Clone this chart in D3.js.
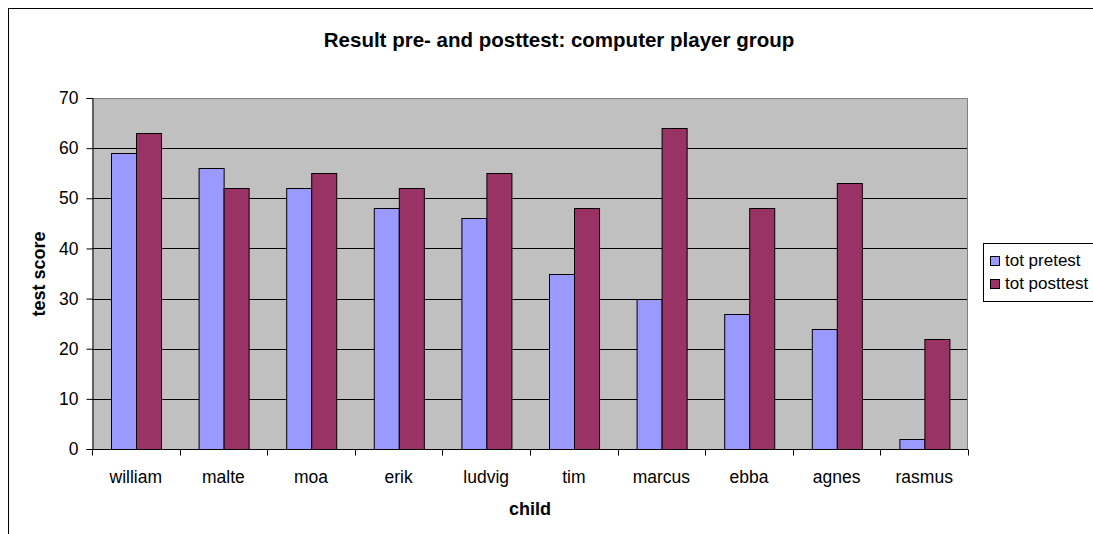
<!DOCTYPE html>
<html>
<head>
<meta charset="utf-8">
<script src="https://cdn.jsdelivr.net/npm/d3@7"></script>
<style>
  html, body { margin: 0; padding: 0; background: #fff; }
  svg { display: block; font-family: Arial, "Liberation Sans", sans-serif; }
</style>
</head>
<body>
<svg id="chart" width="1093" height="534"></svg>
<script>
// Test scores per child, before and after the computer-player sessions
const children = ["william", "malte", "moa", "erik", "ludvig", "tim", "marcus", "ebba", "agnes", "rasmus"];
const seriesNames = ["tot pretest", "tot posttest"];
const pretest = [59, 56, 52, 48, 46, 35, 30, 27, 24, 2];
const posttest = [63, 52, 55, 52, 55, 48, 64, 48, 53, 22];
const yTicks = [0, 10, 20, 30, 40, 50, 60, 70];
const seriesColors = ["#9999FF", "#993366"];

const svg = d3.select("#chart");

// outer chart frame (runs past the right and bottom edges)
svg.append("rect")
  .attr("x", 8.5).attr("y", 8.5)
  .attr("width", 1200).attr("height", 600)
  .attr("fill", "#fff").attr("stroke", "#000").attr("stroke-width", 1);

const plot = { left: 92, right: 968, top: 98, bottom: 449 };

const x0 = d3.scaleBand().domain(children).range([plot.left, plot.right]).padding(0);
const gap = x0.bandwidth() * 0.75 / 3.5;
const x1 = d3.scaleBand().domain(seriesNames).range([gap, x0.bandwidth() - gap]).padding(0);
const y = d3.scaleLinear().domain([0, 70]).range([plot.bottom, plot.top]);

// plot background
svg.append("rect")
  .attr("x", plot.left).attr("y", plot.top)
  .attr("width", plot.right - plot.left).attr("height", plot.bottom - plot.top)
  .attr("fill", "#C0C0C0");

// horizontal gridlines
svg.append("g")
  .selectAll("line")
  .data(yTicks.filter(t => t > 0 && t < 70))
  .join("line")
  .attr("x1", plot.left).attr("x2", plot.right)
  .attr("y1", d => Math.round(y(d)) + 0.5).attr("y2", d => Math.round(y(d)) + 0.5)
  .attr("stroke", "#000").attr("stroke-width", 1);

// plot area border (top and right)
svg.append("path")
  .attr("d", `M${plot.left},${plot.top + 0.5}H${plot.right - 0.5}V${plot.bottom}`)
  .attr("fill", "none").attr("stroke", "#808080").attr("stroke-width", 1);

// bars
const rows = children.map((c, i) => ({ child: c, values: [pretest[i], posttest[i]] }));
const groups = svg.append("g")
  .selectAll("g")
  .data(rows)
  .join("g")
  .attr("transform", d => `translate(${x0(d.child)},0)`);

groups.selectAll("rect")
  .data(d => d.values.map((v, k) => ({ key: seriesNames[k], value: v, k })))
  .join("rect")
  .attr("x", d => Math.round(x1(d.key)) + 0.5)
  .attr("y", d => Math.round(y(d.value)) + 0.5)
  .attr("width", x1.bandwidth())
  .attr("height", d => y(0) - Math.round(y(d.value)))
  .attr("fill", d => seriesColors[d.k])
  .attr("stroke", "#000").attr("stroke-width", 1);

// y axis
const yAxis = d3.axisLeft(y).tickValues(yTicks).tickSize(6).tickPadding(8);
const gy = svg.append("g")
  .attr("transform", `translate(${plot.left + 0.5},0)`)
  .call(yAxis);
gy.selectAll("text").attr("font-size", 17.5).attr("fill", "#000").attr("font-family", "Arial, 'Liberation Sans', sans-serif");
gy.selectAll("line, path").attr("stroke", "#000");

// x axis with ticks at category boundaries
const xAxis = d3.axisBottom(x0).tickSize(0).tickPadding(21);
const gx = svg.append("g")
  .attr("transform", `translate(0,${plot.bottom + 0.5})`)
  .call(xAxis);
gx.selectAll("text").attr("font-size", 17.5).attr("fill", "#000").attr("font-family", "Arial, 'Liberation Sans', sans-serif");
gx.select(".domain").attr("stroke", "#000").attr("d", `M${plot.left},0H${plot.right}`);
const bounds = children.map(c => x0(c)).concat([plot.right]);
gx.selectAll(".bound")
  .data(bounds)
  .join("line")
  .attr("class", "bound")
  .attr("x1", d => Math.round(d) + 0.5).attr("x2", d => Math.round(d) + 0.5)
  .attr("y1", 0).attr("y2", 6)
  .attr("stroke", "#000");

// titles
svg.append("text")
  .attr("x", 559).attr("y", 47)
  .attr("text-anchor", "middle")
  .attr("font-size", 20.5).attr("font-weight", "bold")
  .text("Result pre- and posttest: computer player group");

svg.append("text")
  .attr("x", 530).attr("y", 515)
  .attr("text-anchor", "middle")
  .attr("font-size", 18).attr("font-weight", "bold")
  .text("child");

svg.append("text")
  .attr("transform", `translate(45,274) rotate(-90)`)
  .attr("text-anchor", "middle")
  .attr("font-size", 18).attr("font-weight", "bold")
  .text("test score");

// legend
const legend = svg.append("g");
legend.append("rect")
  .attr("x", 983.5).attr("y", 243.5)
  .attr("width", 200).attr("height", 58)
  .attr("fill", "#fff").attr("stroke", "#000");
const items = legend.selectAll("g.item")
  .data(seriesNames)
  .join("g")
  .attr("class", "item")
  .attr("transform", (d, i) => `translate(0,${i * 23})`);
items.append("rect")
  .attr("x", 990.5).attr("y", 256.5)
  .attr("width", 9).attr("height", 9)
  .attr("fill", (d, i) => seriesColors[i]).attr("stroke", "#000");
items.append("text")
  .attr("x", 1005).attr("y", 266)
  .attr("font-size", 17)
  .text(d => d);
</script>
</body>
</html>
